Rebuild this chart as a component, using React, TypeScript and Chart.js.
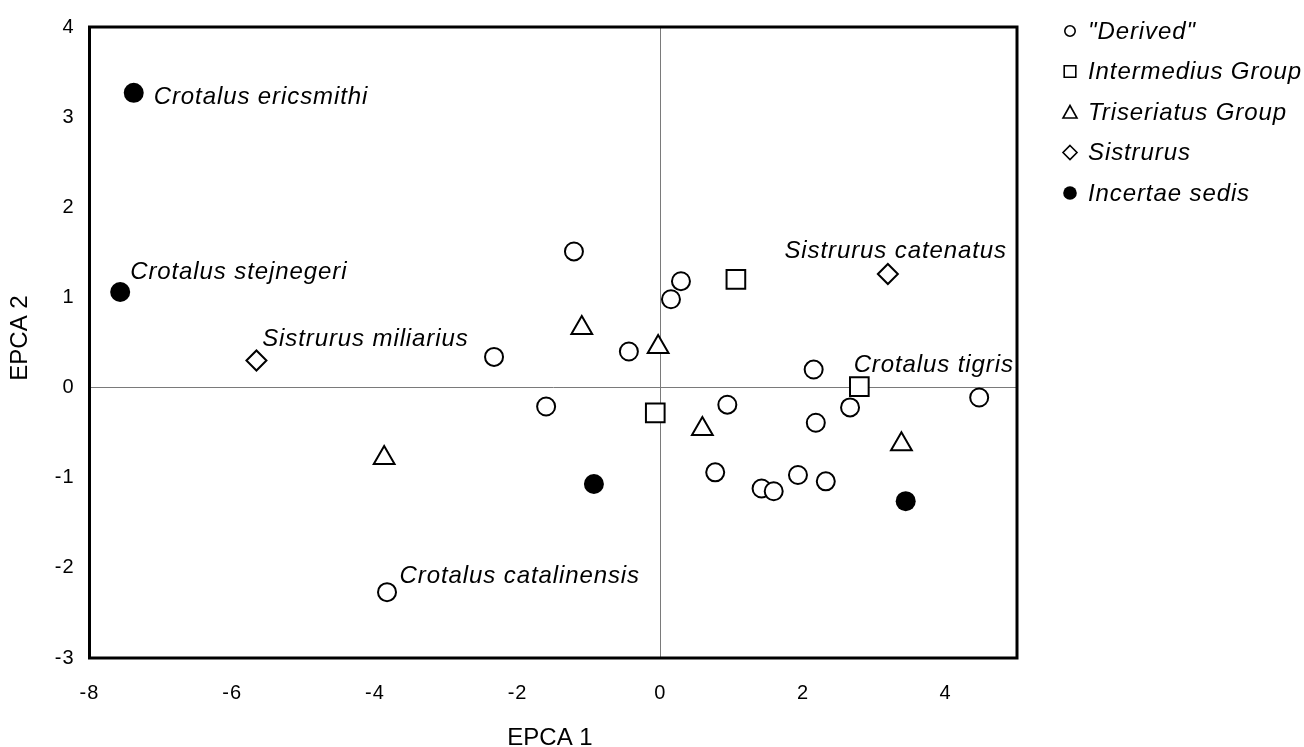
import React, { useEffect, useRef } from 'react';
import { Chart, registerables } from 'chart.js';

Chart.register(...registerables);

// ---- data ----
const seriesNames = ['"Derived"', 'Intermedius Group', 'Triseriatus Group', 'Sistrurus', 'Incertae sedis'];

const derivedX = [-1.21, 0.29, 0.15, -2.33, -0.44, -1.60, 2.15, 0.94, 2.18, 2.66, 4.47, 0.77, 1.42, 1.59, 1.93, 2.32, -3.83];
const derivedY = [1.51, 1.18, 0.98, 0.34, 0.40, -0.21, 0.20, -0.19, -0.39, -0.22, -0.11, -0.94, -1.12, -1.15, -0.97, -1.04, -2.27];

const intermediusX = [1.06, -0.07, 2.79];
const intermediusY = [1.20, -0.28, 0.01];

const triseriatusX = [-1.10, -0.03, 0.59, 3.38, -3.87];
const triseriatusY = [0.66, 0.45, -0.46, -0.63, -0.78];

const sistrurusX = [-5.66, 3.19];
const sistrurusY = [0.30, 1.26];

const incertaeX = [-7.38, -7.57, -0.93, 3.44];
const incertaeY = [3.27, 1.06, -1.07, -1.26];

const xTickValues = [-8, -6, -4, -2, 0, 2, 4];
const yTickValues = [-3, -2, -1, 0, 1, 2, 3, 4];

const xTitle = 'EPCA 1';
const yTitle = 'EPCA 2';

// point labels: dataset index, point index, text
const labelTexts = ['Crotalus ericsmithi', 'Crotalus stejnegeri', 'Sistrurus miliarius', 'Sistrurus catenatus', 'Crotalus tigris', 'Crotalus catalinensis'];
const labelDataset = [4, 4, 3, 3, 1, 0];
const labelPoint = [0, 1, 0, 1, 2, 16];

// label placement (style, pixels relative to the point)
const labelPlacement = [
  { dx: 20, dy: 10.7, align: 'left' },
  { dx: 10, dy: -12.6, align: 'left' },
  { dx: 5.7, dy: -14.4, align: 'left' },
  { dx: 7.8, dy: -15.7, align: 'center' },
  { dx: -5.7, dy: -14.7, align: 'left' },
  { dx: 12.6, dy: -9.4, align: 'left' },
];

const FONT = '"Liberation Sans", Arial, Helvetica, sans-serif';

const toPoints = (xs: number[], ys: number[]) => xs.map((x, i) => ({ x, y: ys[i] }));

function drawLegendMarker(ctx: CanvasRenderingContext2D, kind: number, x: number, y: number) {
  ctx.save();
  ctx.lineWidth = 1.6;
  ctx.strokeStyle = '#000';
  ctx.fillStyle = '#fff';
  ctx.beginPath();
  if (kind === 0) {
    ctx.arc(x, y, 5.2, 0, Math.PI * 2);
    ctx.fill();
    ctx.stroke();
  } else if (kind === 1) {
    ctx.rect(x - 5.8, y - 5.8, 11.6, 11.6);
    ctx.fill();
    ctx.stroke();
  } else if (kind === 2) {
    ctx.moveTo(x, y - 6.5);
    ctx.lineTo(x + 7, y + 6);
    ctx.lineTo(x - 7, y + 6);
    ctx.closePath();
    ctx.fill();
    ctx.stroke();
  } else if (kind === 3) {
    ctx.moveTo(x, y - 7);
    ctx.lineTo(x + 7, y);
    ctx.lineTo(x, y + 7);
    ctx.lineTo(x - 7, y);
    ctx.closePath();
    ctx.fill();
    ctx.stroke();
  } else {
    ctx.fillStyle = '#000';
    ctx.arc(x, y, 6.8, 0, Math.PI * 2);
    ctx.fill();
  }
  ctx.restore();
}

const decorPlugin = {
  id: 'decor',
  beforeDraw(chart: any) {
    (chart.ctx as any).letterSpacing = '1px';
  },
  afterDraw(chart: any) {
    const ctx: CanvasRenderingContext2D = chart.ctx;
    const a = chart.chartArea;
    ctx.save();
    (ctx as any).letterSpacing = '0px';

    // frame
    ctx.strokeStyle = '#000';
    ctx.lineWidth = 3;
    ctx.strokeRect(a.left, a.top, a.right - a.left, a.bottom - a.top);

    // point labels
    ctx.fillStyle = '#000';
    ctx.font = `italic 24px ${FONT}`;
    (ctx as any).letterSpacing = '0.9px';
    ctx.textBaseline = 'alphabetic';
    labelTexts.forEach((t, k) => {
      const el = chart.getDatasetMeta(labelDataset[k]).data[labelPoint[k]];
      const p = labelPlacement[k];
      ctx.textAlign = p.align as CanvasTextAlign;
      ctx.fillText(t, el.x + p.dx, el.y + p.dy);
    });

    // legend
    const legendX = 1070;
    const legendTextX = 1088;
    const legendRows = [31, 71.5, 112, 152.5, 193];
    ctx.textAlign = 'left';
    ctx.textBaseline = 'middle';
    seriesNames.forEach((name, i) => {
      drawLegendMarker(ctx, i, legendX, legendRows[i]);
      ctx.fillStyle = '#000';
      ctx.fillText(name, legendTextX, legendRows[i] + 1);
    });

    // axis titles
    (ctx as any).letterSpacing = '0px';
    ctx.font = `24px ${FONT}`;
    ctx.textAlign = 'center';
    ctx.textBaseline = 'alphabetic';
    ctx.fillText(xTitle, 550, 745);
    ctx.translate(27, 338);
    ctx.rotate(-Math.PI / 2);
    ctx.fillText(yTitle, 0, 0);
    ctx.restore();
  },
};

export default function App() {
  const canvasRef = useRef<HTMLCanvasElement | null>(null);

  useEffect(() => {
    const canvas = canvasRef.current;
    if (!canvas) return;
    const zeroGrid = (c: any) => (c.tick && c.tick.value === 0 ? '#7a7a7a' : 'rgba(0,0,0,0)');
    const tickFont = { family: FONT, size: 20 };
    const chart = new Chart(canvas, {
      type: 'scatter',
      data: {
        datasets: [
          {
            label: seriesNames[0],
            data: toPoints(derivedX, derivedY),
            pointStyle: 'circle',
            pointRadius: 9,
            borderWidth: 2,
            borderColor: '#000',
            backgroundColor: '#fff',
          },
          {
            label: seriesNames[1],
            data: toPoints(intermediusX, intermediusY),
            pointStyle: 'rect',
            pointRadius: 13.2,
            borderWidth: 2,
            borderColor: '#000',
            backgroundColor: '#fff',
          },
          {
            label: seriesNames[2],
            data: toPoints(triseriatusX, triseriatusY),
            pointStyle: 'triangle',
            pointRadius: 12,
            borderWidth: 2,
            borderColor: '#000',
            backgroundColor: '#fff',
          },
          {
            label: seriesNames[3],
            data: toPoints(sistrurusX, sistrurusY),
            pointStyle: 'rectRot',
            pointRadius: 10,
            borderWidth: 2,
            borderColor: '#000',
            backgroundColor: '#fff',
          },
          {
            label: seriesNames[4],
            data: toPoints(incertaeX, incertaeY),
            pointStyle: 'circle',
            pointRadius: 10,
            borderWidth: 0,
            borderColor: '#000',
            backgroundColor: '#000',
          },
        ],
      },
      options: {
        animation: false,
        responsive: false,
        devicePixelRatio: 1,
        events: [],
        layout: { padding: { left: 0, top: 21.5, right: 287, bottom: 0 } },
        plugins: {
          legend: { display: false },
          tooltip: { enabled: false },
          title: { display: false },
        },
        scales: {
          x: {
            type: 'linear',
            min: -8,
            max: 5,
            afterBuildTicks: (s: any) => {
              s.ticks = xTickValues.map((v) => ({ value: v }));
            },
            afterFit: (s: any) => {
              s.height = 89;
            },
            grid: { color: zeroGrid, lineWidth: 1, drawTicks: false },
            border: { display: false },
            ticks: { font: tickFont, color: '#000', padding: 23, maxRotation: 0 },
          },
          y: {
            type: 'linear',
            min: -3,
            max: 4,
            afterBuildTicks: (s: any) => {
              s.ticks = yTickValues.map((v) => ({ value: v }));
            },
            afterFit: (s: any) => {
              s.width = 89.5;
            },
            grid: { color: zeroGrid, lineWidth: 1, drawTicks: false },
            border: { display: false },
            ticks: { font: tickFont, color: '#000', padding: 15 },
          },
        },
      } as any,
      plugins: [decorPlugin as any],
    });
    return () => chart.destroy();
  }, []);

  return (
    <div style={{ position: 'absolute', left: 0, top: 0, width: 1304, height: 747, background: '#fff' }}>
      <canvas ref={canvasRef} width={1304} height={747} style={{ display: 'block' }} />
    </div>
  );
}
